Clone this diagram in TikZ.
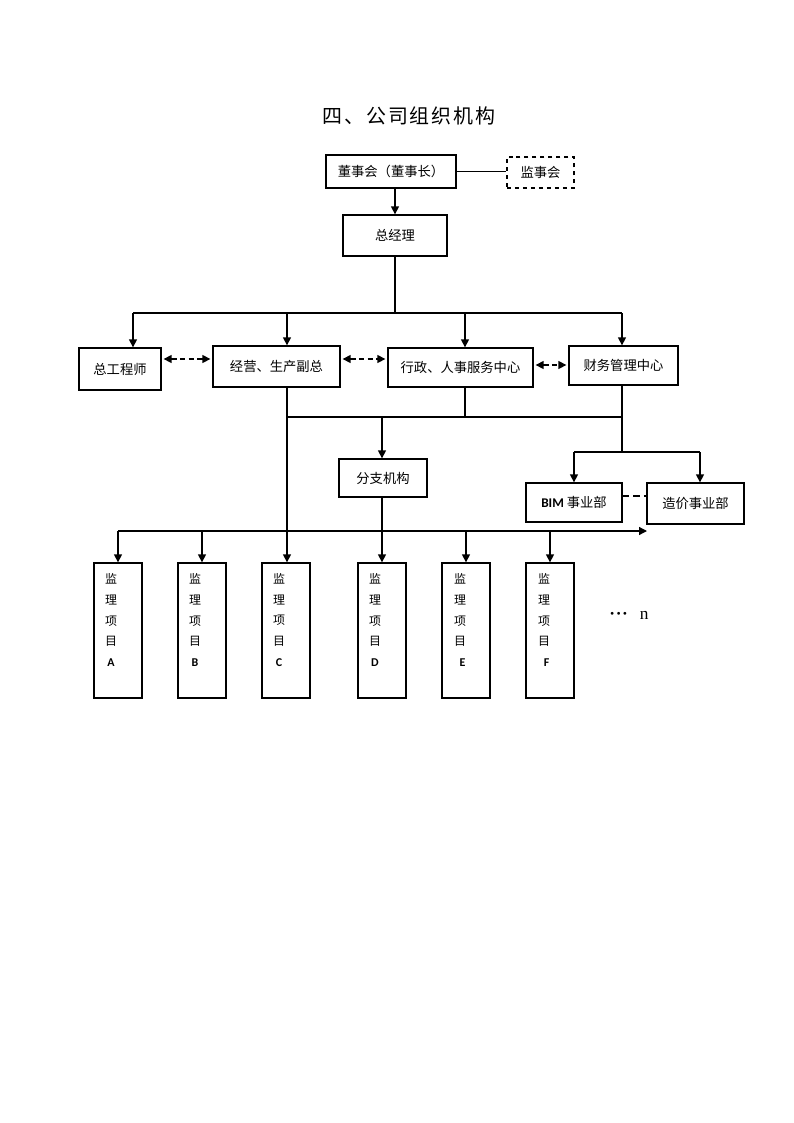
\documentclass[tikz,border=0pt]{standalone}
\usepackage{fontspec}
\newfontfamily\cjk{Noto Sans CJK SC}
\newfontfamily\titlefont[LetterSpace=9]{Noto Sans CJK SC}
\newfontfamily\lat{Carlito}
\newfontfamily\ser{Liberation Serif}
\usetikzlibrary{arrows.meta}
\newdimen\pu \pu=0.02645cm
\tikzset{
  box/.style={draw, line width=1pt, inner sep=0pt, font=\cjk\fontsize{10}{12}\selectfont},
  pbox/.style={draw, line width=1pt, inner sep=0pt, minimum width=48\pu, minimum height=135\pu},
  ptext/.style={font=\cjk\fontsize{9}{15.75}\selectfont, align=center, inner sep=0pt},
  conn/.style={line width=1pt},
  arr/.style={line width=1pt, -{Triangle[width=6pt,length=6pt]}},
  dda/.style={line width=1pt, dash pattern=on 4pt off 2.5pt, {Triangle[width=6pt,length=6pt]}-{Triangle[width=6pt,length=6pt]}, shorten <=1.5pt, shorten >=1.5pt},
  dline/.style={line width=1pt, dash pattern=on 5pt off 3pt}
}
\begin{document}
\begin{tikzpicture}[x=0.02645cm, y=-0.02645cm]
\useasboundingbox (0,0) rectangle (794,1123);

% title
\node[font=\titlefont\fontsize{15}{17}\selectfont] (title) at (409,116) {四、公司组织机构};

% top
\node[box, minimum width=130\pu, minimum height=33\pu] (dsh) at (391,171.5) {董事会（董事长）};
\node[box, dashed, minimum width=67\pu, minimum height=31\pu] (jsh) at (540.5,172.5) {监事会};
\node[box, minimum width=104\pu, minimum height=41\pu] (zjl) at (395,235.5) {总经理};
\draw[conn] (dsh.east) -- (dsh.east -| jsh.west);
\draw[arr] (dsh.south -| zjl.north) -- (zjl.north);

% second row
\node[box, minimum width=82\pu, minimum height=42\pu] (zgcs) at (120,369) {总工程师};
\node[box, minimum width=127\pu, minimum height=41\pu] (jy) at (276.5,366.5) {经营、生产副总};
\node[box, minimum width=145\pu, minimum height=39\pu] (xz) at (460.5,367.5) {行政、人事服务中心};
\node[box, minimum width=109\pu, minimum height=39\pu] (cw) at (623.5,365.5) {财务管理中心};

\coordinate (b0) at (395,313);
\coordinate (b1) at (133,313);
\coordinate (b2) at (287,313);
\coordinate (b3) at (465,313);
\coordinate (b4) at (622,313);
\draw[conn] (zjl.south) -- (b0);
\draw[conn] (b1) -- (b4);
\draw[arr] (b1) -- (b1 |- zgcs.north);
\draw[arr] (b2) -- (b2 |- jy.north);
\draw[arr] (b3) -- (b3 |- xz.north);
\draw[arr] (b4) -- (b4 |- cw.north);

\coordinate (d1) at (0,359);
\coordinate (d2) at (0,365);
\draw[dda] (zgcs.east |- d1) -- (jy.west |- d1);
\draw[dda] (jy.east |- d1) -- (xz.west |- d1);
\draw[dda] (xz.east |- d2) -- (cw.west |- d2);

% middle
\node[box, minimum width=88\pu, minimum height=38\pu] (fz) at (383,478) {分支机构};
\node[box, minimum width=96\pu, minimum height=39\pu] (bim) at (574,502.5) {{\lat\bfseries BIM} 事业部};
\node[box, minimum width=97\pu, minimum height=41\pu] (zj) at (695.5,503.5) {造价事业部};

\coordinate (m1) at (287,417);
\coordinate (m2) at (465,417);
\coordinate (m3) at (622,417);
\coordinate (m4) at (382,417);
\coordinate (m5) at (622,452);
\coordinate (m6) at (574,452);
\coordinate (m7) at (700,452);
\coordinate (d3) at (0,496);

% projects
\node[pbox] (pA) at (118,630.5) {};
\node[pbox] (pB) at (202,630.5) {};
\node[pbox] (pC) at (286,630.5) {};
\node[pbox] (pD) at (382,630.5) {};
\node[pbox] (pE) at (466,630.5) {};
\node[pbox] (pF) at (550,630.5) {};
\node[ptext] (tA) at (111,620) {监\\理\\项\\目\\{\lat\bfseries A}};
\node[ptext] (tB) at (195,620) {监\\理\\项\\目\\{\lat\bfseries B}};
\node[ptext] (tC) at (279,620) {监\\理\\项\\目\\{\lat\bfseries C}};
\node[ptext] (tD) at (375,620) {监\\理\\项\\目\\{\lat\bfseries D}};
\node[ptext] (tE) at (460,620) {监\\理\\项\\目\\\hspace*{4pt}{\lat\bfseries E}};
\node[ptext] (tF) at (544,620) {监\\理\\项\\目\\\hspace*{4pt}{\lat\bfseries F}};
\node[font=\ser\fontsize{13}{15}\selectfont, inner sep=0pt] (more) at (629,615) {\textbf{·\kern0.5pt·\kern0.5pt·}\hspace{9pt}n};

\draw[arr] (m1 |- jy.south) -- (m1 |- pC.north);
\draw[conn] (m2 |- xz.south) -- (m2);
\draw[conn] (m1) -- (m3);
\draw[conn] (m3 |- cw.south) -- (m5);
\draw[arr] (m4) -- (m4 |- fz.north);
\draw[conn] (m6) -- (m7);
\draw[arr] (m6) -- (m6 |- bim.north);
\draw[arr] (m7) -- (m7 |- zj.north);
\draw[dline] (bim.east |- d3) -- (zj.west |- d3);

\coordinate (q0) at (118,531);
\coordinate (qB) at (202,531);
\coordinate (qE) at (466,531);
\coordinate (qF) at (550,531);
\coordinate (qe) at (647,531);
\draw[arr] (q0) -- (qe);
\draw[arr] (q0) -- (q0 |- pA.north);
\draw[arr] (qB) -- (qB |- pB.north);
\draw[arr] (qE) -- (qE |- pE.north);
\draw[arr] (qF) -- (qF |- pF.north);
\draw[arr] (m4 |- fz.south) -- (m4 |- pD.north);
\end{tikzpicture}
\end{document}
